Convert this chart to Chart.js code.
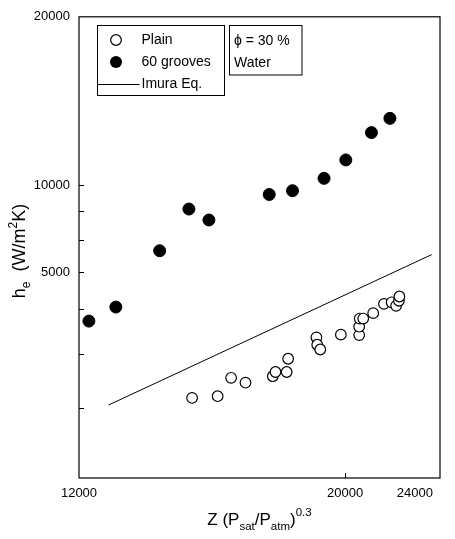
<!DOCTYPE html>
<html><head><meta charset="utf-8">
<script src="https://cdn.jsdelivr.net/npm/chart.js@4/dist/chart.umd.min.js"></script>
<style>html,body{margin:0;padding:0;background:#fff;}#wrap{width:455px;height:539px;position:relative;}</style>
</head><body><div id="wrap"><canvas id="c" width="455" height="539"></canvas></div>
<script>
// ---- data ----
const plainZ = [14910, 15660, 16070, 16520, 17410, 17500, 17880, 17930, 18930, 18960, 19070, 19840, 20550, 20550, 20570, 20710, 21110, 21550, 21870, 22060, 22180, 22200];
const plainH = [4170, 4200, 4530, 4440, 4560, 4640, 4640, 4900, 5350, 5190, 5090, 5410, 5400, 5590, 5780, 5780, 5910, 6140, 6180, 6090, 6220, 6330];
const groovesZ = [12230, 12880, 14010, 14820, 15400, 17290, 18080, 19210, 20030, 21040, 21800];
const groovesH = [5720, 6060, 7640, 9070, 8670, 9630, 9780, 10290, 11100, 12420, 13170];
const imuraZ = [12700, 23620];
const imuraH = [4050, 7520];
const xTickValues = [12000, 20000, 24000];
const xTickLabels = ['12000', '20000', '24000'];
const yTickValues = [3000, 4000, 5000, 6000, 7000, 8000, 9000, 10000, 20000];
const yTickLabels = ['', '', '', '', '5000', '', '', '10000', '20000'];
const legendLabels = ['Plain', '60 grooves', 'Imura Eq.'];
const noteLines = ['\u03D5 = 30 %', 'Water'];

const FONT = '"Liberation Sans", Arial, "DejaVu Sans", sans-serif';
const toPts = (xs, ys) => xs.map((x, i) => ({x: x, y: ys[i]}));

function drawRich(ctx, parts, x, y, align) {
  let w = 0;
  parts.forEach(p => { ctx.font = p[1] + 'px ' + FONT; w += ctx.measureText(p[0]).width; });
  let cx = align === 'center' ? x - w / 2 : x;
  ctx.textAlign = 'left';
  ctx.textBaseline = 'alphabetic';
  parts.forEach(p => {
    ctx.font = p[1] + 'px ' + FONT;
    ctx.fillText(p[0], cx, y + p[2]);
    cx += ctx.measureText(p[0]).width;
  });
}

const deco = {
  id: 'deco',
  afterDraw(chart) {
    const ctx = chart.ctx, a = chart.chartArea;
    const xs = chart.scales.x, ys = chart.scales.y;
    ctx.save();
    ctx.strokeStyle = '#000';
    ctx.fillStyle = '#000';
    ctx.lineWidth = 1.2;
    ctx.strokeRect(a.left, a.top, a.right - a.left, a.bottom - a.top);
    ctx.lineWidth = 1;
    ctx.beginPath();
    yTickValues.forEach(v => {
      const p = Math.round(ys.getPixelForValue(v)) + 0.5;
      if (p > a.top + 2 && p < a.bottom - 2) { ctx.moveTo(a.left, p); ctx.lineTo(a.left + 5, p); }
    });
    xTickValues.forEach(v => {
      const p = Math.round(xs.getPixelForValue(v)) + 0.5;
      if (p > a.left + 2 && p < a.right - 2) { ctx.moveTo(p, a.bottom); ctx.lineTo(p, a.bottom - 5); }
    });
    ctx.stroke();
    ctx.font = '13px ' + FONT;
    ctx.textBaseline = 'middle';
    xTickValues.forEach((v, i) => {
      const p = xs.getPixelForValue(v);
      const w = ctx.measureText(xTickLabels[i]).width;
      let left = p - w / 2;
      if (left + w > chart.width - 22) left = chart.width - 22 - w;
      ctx.textAlign = 'left';
      ctx.fillText(xTickLabels[i], left, a.bottom + 15);
    });
    drawRich(ctx, [['Z (P', 17, 0], ['sat', 11.5, 5], ['/P', 17, 0], ['atm', 11.5, 5], [')', 17, 0], ['0.3', 11.5, -9]],
      (a.left + a.right) / 2, a.bottom + 47, 'center');
    ctx.save();
    ctx.translate(25, 251);
    ctx.rotate(-Math.PI / 2);
    drawRich(ctx, [['h', 18, 0], ['e', 12, 5], ['  (W/m', 18, 0], ['2', 12, -8], ['K)', 18, 0]], 0, 0, 'center');
    ctx.restore();
    ctx.lineWidth = 1;
    ctx.strokeRect(97.5, 25.5, 127, 70);
    ctx.strokeRect(229.5, 25.5, 72.5, 49.5);
    ctx.font = '14px ' + FONT;
    ctx.textAlign = 'left';
    ctx.textBaseline = 'middle';
    ctx.beginPath(); ctx.arc(116, 40, 5.3, 0, Math.PI * 2);
    ctx.fillStyle = '#fff'; ctx.fill(); ctx.lineWidth = 1.2; ctx.stroke();
    ctx.fillStyle = '#000';
    ctx.fillText(legendLabels[0], 141.5, 40.5);
    ctx.beginPath(); ctx.arc(116, 62, 6, 0, Math.PI * 2); ctx.fill();
    ctx.fillText(legendLabels[1], 141.5, 62.5);
    ctx.lineWidth = 1;
    ctx.beginPath(); ctx.moveTo(97.5, 84.5); ctx.lineTo(139.5, 84.5); ctx.stroke();
    ctx.fillText(legendLabels[2], 141.5, 84);
    ctx.fillText(noteLines[0], 234, 41);
    ctx.fillText(noteLines[1], 234, 63.5);
    ctx.restore();
  }
};

new Chart(document.getElementById('c'), {
  type: 'scatter',
  data: {
    datasets: [
      {label: 'Imura Eq.', type: 'line', data: toPts(imuraZ, imuraH), borderColor: '#000', borderWidth: 1, pointRadius: 0, fill: false, tension: 0, order: 3},
      {label: '60 grooves', data: toPts(groovesZ, groovesH), pointRadius: 6, pointBackgroundColor: '#000', pointBorderColor: '#000', pointBorderWidth: 1, order: 2},
      {label: 'Plain', data: toPts(plainZ, plainH), pointRadius: 5.3, pointBackgroundColor: '#fff', pointBorderColor: '#000', pointBorderWidth: 1.2, order: 1}
    ]
  },
  options: {
    responsive: false,
    animation: false,
    devicePixelRatio: 1,
    layout: {padding: {top: 12, right: 15, left: 0, bottom: 0}},
    plugins: {legend: {display: false}, tooltip: {enabled: false}},
    scales: {
      x: {
        type: 'logarithmic', min: 12000, max: 24000, position: 'bottom',
        grid: {display: false, drawTicks: false},
        border: {display: false},
        ticks: {display: false},
        afterBuildTicks: s => { s.ticks = xTickValues.map(v => ({value: v})); },
        afterFit: s => { s.height = 61; }
      },
      y: {
        type: 'logarithmic', min: 3000, max: 20000, position: 'left',
        grid: {display: false, drawTicks: false},
        border: {display: false},
        ticks: {autoSkip: false, padding: 9, color: '#000', font: {family: FONT, size: 13},
          callback: (v, i) => yTickLabels[i]},
        afterBuildTicks: s => { s.ticks = yTickValues.map(v => ({value: v})); },
        afterFit: s => { s.width = 79; }
      }
    }
  },
  plugins: [deco]
});
</script></body></html>
